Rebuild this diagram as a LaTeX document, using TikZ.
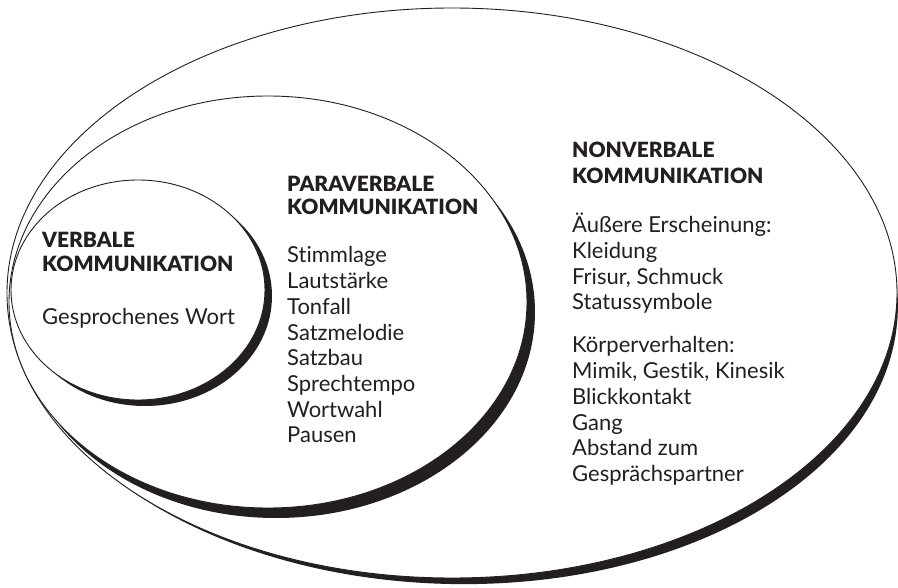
\documentclass[tikz,border=0pt]{standalone}
\usepackage{fontspec}
\setmainfont{Lato}[BoldFont={Lato Black},Ligatures=CommonOff]
\definecolor{ink}{HTML}{231F20}
\tikzset{
  head/.style={anchor=base west,inner sep=0pt,text=ink,font=\fontsize{21}{24}\selectfont\bfseries},
  item/.style={anchor=base west,inner sep=0pt,text=ink,font=\fontsize{22}{25}\selectfont},
  rim/.style={fill=ink},
  lens/.style={fill=white,draw=ink,line width=.9pt},
}
\begin{document}
\begin{tikzpicture}[x=1pt,y=-1pt]
  \useasboundingbox (0,0) rectangle (898,588);
  % rings, outermost first: centre, radii, shift of the heavy rim, tilt
  \foreach \cx/\cy/\rx/\ry/\dx/\dy/\tilt in {452/293/445/285/1/6/-1.5,268/302/259/206/8/10/0,138/290/127/110/7/6/0}{
    \fill[rim] (\cx+\dx,\cy+\dy) ellipse [x radius=\rx pt,y radius=\ry pt,rotate=\tilt];
    \filldraw[lens] (\cx,\cy) ellipse [x radius=\rx pt,y radius=\ry pt];
  }

  \node[head] (vbA) at (42,248) {VERBALE};
  \node[head] (vbB) at (42,272) {KOMMUNIKATION};
  \node[item] (vb1) at (42,325) {Gesprochenes Wort};

  \node[head] (pvA) at (287,192) {PARAVERBALE};
  \node[head] (pvB) at (287,215) {KOMMUNIKATION};
  \foreach \t [count=\i] in {Stimmlage,Lautstärke,Tonfall,Satzmelodie,Satzbau,Sprechtempo,Wortwahl,Pausen}
    \node[item] (pv\i) at (287,263+25.7*\i-25.7) {\t};

  \node[head] (nvA) at (572,158) {NONVERBALE};
  \node[head] (nvB) at (572,184) {KOMMUNIKATION};
  \foreach \t [count=\i] in {Äußere Erscheinung:,Kleidung,{Frisur, Schmuck},Statussymbole}
    \node[item] (nva\i) at (572,233+25.6*\i-25.6) {\t};
  \foreach \t [count=\i] in {Körperverhalten:,{Mimik, Gestik, Kinesik},Blickkontakt,Gang,Abstand zum,Gesprächspartner}
    \node[item] (nvb\i) at (572,353+25.7*\i-25.7) {\t};
\end{tikzpicture}
\end{document}
